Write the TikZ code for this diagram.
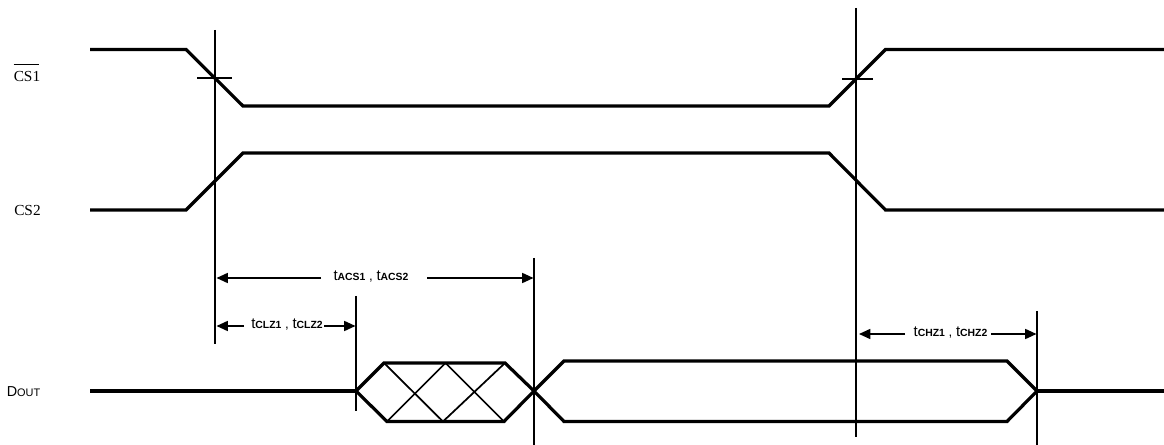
\documentclass[tikz,border=0pt]{standalone}
\usepackage{fontspec}
\setmainfont{Liberation Serif}
\setsansfont{Liberation Sans}
\usetikzlibrary{arrows.meta}
\newcommand{\tlabel}[1]{{\fontsize{11.2}{12}\selectfont t}{\fontsize{7.8}{9}\selectfont\bfseries #1}}
\tikzset{
  wave/.style={line width=2.4pt,line join=miter,line cap=butt},
  vline/.style={line width=1.3pt},
  thinx/.style={line width=1.3pt},
  dim/.style={line width=1.2pt,-{Triangle[length=8.5pt,width=7.5pt]}},
  siglabel/.style={font=\fontsize{11.5}{13}\selectfont,inner sep=0pt,anchor=base west},
  timelabel/.style={font=\sffamily,inner sep=0pt,anchor=base}
}
\begin{document}
\begin{tikzpicture}[x=0.75pt,y=-0.75pt]
\useasboundingbox (0,0) rectangle (1164,445);
% waveforms
\draw[wave] (90,49.5) -- (186,49.5) -- (243,106) -- (829,106) -- (885.5,49.5) -- (1164,49.5);
\draw[wave] (90,210) -- (186,210) -- (243,153) -- (829,153) -- (885.5,210) -- (1164,210);
\draw[wave] (90,391) -- (356,391);
\draw[wave] (356,391) -- (384,363) -- (505,363) -- (534,391) -- (504,421.5) -- (387,421.5) -- cycle;
\draw[wave] (534,391) -- (564,361) -- (1007,361) -- (1037,391) -- (1007,421.5) -- (564,421.5) -- cycle;
\draw[wave] (1037,391) -- (1164,391);
% cross hatch
\draw[thinx] (384,363) -- (443,421.5) (387,421.5) -- (445.5,363) (445.5,363) -- (504,421.5) (443,421.5) -- (505,363);
% vertical reference lines
\coordinate (v1t) at (215,30);    \coordinate (v1b) at (215,344);
\coordinate (v2t) at (855.8,8);   \coordinate (v2b) at (855.8,437);
\coordinate (v3t) at (534,258);   \coordinate (v3b) at (534,445);
\coordinate (v4t) at (356,296);   \coordinate (v4b) at (356,411);
\coordinate (v5t) at (1037,311);  \coordinate (v5b) at (1037,445);
\draw[vline] (v1t) -- (v1b);
\draw[vline] (v2t) -- (v2b);
\draw[vline] (v3t) -- (v3b);
\draw[vline] (v4t) -- (v4b);
\draw[vline] (v5t) -- (v5b);
% ticks
\coordinate (k1a) at (197,78);  \coordinate (k1b) at (232,78);
\coordinate (k2a) at (842,79);  \coordinate (k2b) at (873,79);
\draw[vline] (k1a) -- (k1b);
\draw[vline] (k2a) -- (k2b);
% labels
\node[siglabel] (cs1) at (13.5,82) {CS1};
\coordinate (barl) at (13.5,64.5); \coordinate (barr) at (39,64.5);
\draw[line width=0.6pt] (barl) -- (barr);
\node[siglabel] (cs2) at (14,216) {CS2};
\node[timelabel,anchor=base west] (dout) at (6.5,396.5) {{\fontsize{10.8}{12}\selectfont D}{\fontsize{8.2}{9}\selectfont OUT}};
\node[timelabel] (acs) at (371,281) {\tlabel{ACS1} , \tlabel{ACS2}};
\node[timelabel] (clz) at (287,329) {\tlabel{CLZ1} , \tlabel{CLZ2}};
\node[timelabel] (chz) at (950.5,337) {\tlabel{CHZ1} , \tlabel{CHZ2}};
% dimension arrows
\coordinate (a1l) at (321,278); \coordinate (a1le) at (216.5,278);
\coordinate (a1r) at (427,278); \coordinate (a1re) at (533.5,278);
\coordinate (a2l) at (244,326); \coordinate (a2le) at (216.5,326);
\coordinate (a2r) at (324,326); \coordinate (a2re) at (355.5,326);
\coordinate (a3l) at (905,334); \coordinate (a3le) at (859,334);
\coordinate (a3r) at (991,334); \coordinate (a3re) at (1036.5,334);
\draw[dim] (a1l) -- (a1le);
\draw[dim] (a1r) -- (a1re);
\draw[dim] (a2l) -- (a2le);
\draw[dim] (a2r) -- (a2re);
\draw[dim] (a3l) -- (a3le);
\draw[dim] (a3r) -- (a3re);
\end{tikzpicture}
\end{document}
